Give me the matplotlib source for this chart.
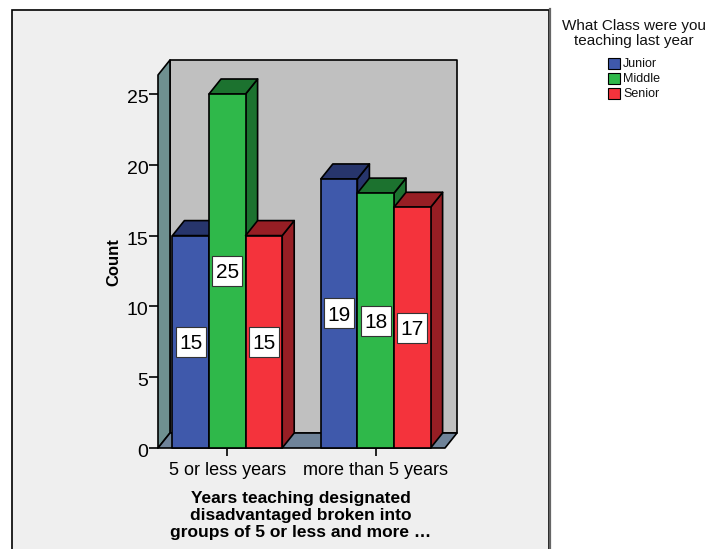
import matplotlib.pyplot as plt
from matplotlib.patches import Polygon, Rectangle
from matplotlib.transforms import ScaledTranslation

plt.rcParams['font.family'] = ['Liberation Sans', 'DejaVu Sans']

categories = ["5 or less years", "more than 5 years"]
classes = ["Junior", "Middle", "Senior"]
junior = [15, 19]
middle = [25, 18]
senior = [15, 17]
y_ticks = [0, 5, 10, 15, 20, 25]

front_cols = ['#3f59ab', '#2fb84a', '#f4333c']
top_cols = ['#27356c', '#1c722f', '#971e24']
side_cols = ['#27356c', '#1c722f', '#971e24']
wall_col = '#c0c0c0'
side_wall_col = '#6f9090'
floor_col = '#6f8399'
bg = '#efefef'
W, H = 709, 549

fig = plt.figure(figsize=(W / 100, H / 100), dpi=100, facecolor='white')

# outer frame, runs off the bottom of the picture
fig.add_artist(Rectangle((11.5 / W, -5 / H), (549 - 11.5) / W, (H - 9.5 + 5) / H, transform=fig.transFigure,
                         facecolor=bg, edgecolor='black', lw=1.2, zorder=-1))
fig.add_artist(plt.Line2D([549.5 / W, 549.5 / W], [0, 1 - 9 / H], color='#666666', lw=1.6, zorder=-0.5))

x0, x1 = 158, 445
y0, y1 = 448, 75
ax = fig.add_axes([x0 / W, 1 - y0 / H, (x1 - x0) / W, (y0 - y1) / H])
ppx = 148.4
ppy = 14.16
ax.set_xlim((x0 - 227.3) / ppx, (x1 - 227.3) / ppx)
ax.set_ylim(0, (y0 - y1) / ppy)
ax.patch.set_visible(False)
for s in ax.spines.values():
    s.set_visible(False)

dx = 12 / ppx
dy = 15 / ppy
bw = 36.6 / ppx
xl, xr = ax.get_xlim()
yt = ax.get_ylim()[1]
edge = dict(edgecolor='black', lw=1.2, joinstyle='round', clip_on=False)

ax.add_patch(Polygon([(xl + dx, dy), (xr + dx, dy), (xr + dx, yt + dy), (xl + dx, yt + dy)], facecolor=wall_col, **edge))
ax.add_patch(Polygon([(xl, 0), (xl + dx, dy), (xl + dx, yt + dy), (xl, yt)], facecolor=side_wall_col, **edge))
ax.add_patch(Polygon([(xl, 0), (xr, 0), (xr + dx, dy), (xl + dx, dy)], facecolor=floor_col, **edge))

series = [junior, middle, senior]
for c in range(len(categories)):
    for i, vals in enumerate(series):
        v = vals[c]
        left = c + (i - 1.5) * bw
        right = left + bw
        ax.add_patch(Polygon([(right, 0), (right + dx, dy), (right + dx, v + dy), (right, v)], facecolor=side_cols[i], **edge))
        ax.add_patch(Polygon([(left, v), (right, v), (right + dx, v + dy), (left + dx, v + dy)], facecolor=top_cols[i], **edge))
        ax.add_patch(Rectangle((left, 0), bw, v, facecolor=front_cols[i], **edge))
        ax.plot(left + bw / 2, v / 2, marker='s', ms=21.5, mfc='white', mec='#333333', mew=0.8, zorder=5, clip_on=False)
        ax.text(left + bw / 2, v / 2, str(v), ha='center', va='center_baseline', fontsize=15, color='black', zorder=6)

ax.set_yticks(y_ticks)
ax.set_xticks(range(len(categories)))
ax.set_xticklabels(categories)
ax.tick_params(axis='y', labelsize=14, length=6.5, width=1.2, pad=0.5)
ax.tick_params(axis='x', labelsize=13, length=6, width=1.2, pad=4)
# tick numbers sit a little below their ticks
for lab in ax.get_yticklabels():
    lab.set_transform(lab.get_transform() + ScaledTranslation(0, -2.5 / 100, fig.dpi_scale_trans))
ax.set_ylabel('Count', fontsize=12, fontweight='bold')
ax.yaxis.set_label_coords((121 - x0) / (x1 - x0), (y0 - 262) / (y0 - y1))

fig.text(301 / W, 1 - 515.5 / H, "Years teaching designated\ndisadvantaged broken into\ngroups of 5 or less and more \u2026",
         ha='center', va='center', fontsize=12.5, fontweight='bold', linespacing=1.15)

fig.text(634 / W, 1 - 33.5 / H, "What Class were you\nteaching last year", ha='center', va='center', fontsize=11, linespacing=1.07, color='#111111')
for i, name in enumerate(classes):
    ypx = 63 + i * 15
    fig.add_artist(Rectangle((608 / W, 1 - (ypx + 5.5) / H), 11.5 / W, 11 / H, transform=fig.transFigure,
                             facecolor=front_cols[i], edgecolor='black', lw=0.8))
    fig.text(623 / W, 1 - (ypx + 1) / H, name, ha='left', va='center', fontsize=9, color='#111111')

fig.savefig('out.png', dpi=100)
